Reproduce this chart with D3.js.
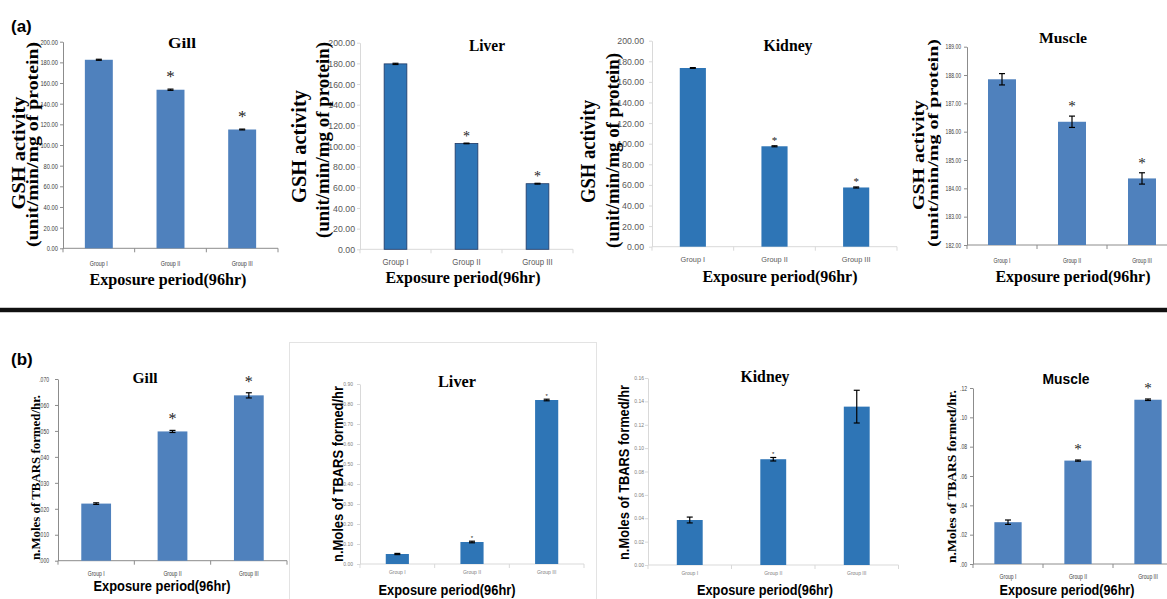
<!DOCTYPE html>
<html>
<head>
<meta charset="utf-8">
<script src="https://cdn.jsdelivr.net/npm/d3@7"></script>
<style>
  html, body { margin: 0; padding: 0; background: #fff; }
  svg { display: block; }
</style>
</head>
<body>
<svg id="chart" width="1167" height="599"></svg>
<script>
// ---------- DATA ----------
const groups = ["Group I", "Group II", "Group III"];

// (a) GSH activity (unit/min/mg of protein)
const gshGill = [182.5, 153.5, 115.0];
const gshGillErr = [0.5, 0.6, 0.4];
const gshLiver = [179.5, 102.5, 63.5];
const gshLiverErr = [0.6, 0.3, 0.4];
const gshKidney = [173.5, 97.5, 57.5];
const gshKidneyErr = [0.4, 0.5, 0.5];
const gshMuscle = [187.85, 186.35, 184.35];
const gshMuscleErr = [0.2, 0.2, 0.2];
const gshSig = [false, true, true];

// (b) TBARS (n.Moles formed/hr)
const tbGill = [0.022, 0.0498, 0.0637];
const tbGillErr = [0.0003, 0.0004, 0.001];
const tbLiver = [0.05, 0.11, 0.82];
const tbLiverErr = [0.003, 0.004, 0.004];
const tbKidney = [0.0385, 0.0905, 0.1355];
const tbKidneyErr = [0.0025, 0.0015, 0.014];
const tbMuscle = [0.0285, 0.0705, 0.112];
const tbMuscleErr = [0.0015, 0.0004, 0.0005];
const tbSig = [false, true, true];

// axis domains
const gshDomain = [0, 200];
const gshMuscleDomain = [182, 189];
const tbGillDomain = [0, 0.07];
const tbLiverDomain = [0, 0.9];
const tbKidneyDomain = [0, 0.16];
const tbMuscleDomain = [0, 0.12];

const txtGsh1 = "GSH activity";
const txtGsh2 = "(unit/min/mg of protein)";
const txtTbars = "n.Moles of TBARS formed/hr";
const txtTbarsDot = "n.Moles of TBARS formed/hr.";
const txtX = "Exposure period(96hr)";

// ---------- STYLE ----------
const SERIF = "'Liberation Serif','Times New Roman',serif";
const SANS = "'Liberation Sans',Arial,sans-serif";
const OLD = "#4F81BD", NEW = "#2E75B6";

const f2 = d3.format(".2f");
const fDot3 = v => d3.format(".3f")(v).replace(/^0/, "");
const fDot2 = v => d3.format(".2f")(v).replace(/^0/, "");

const svg = d3.select("#chart");

const panels = [
  { vals: gshGill, errs: gshGillErr, sig: gshSig, domain: gshDomain, ticks: 10, fmt: f2,
    x0: 63, x1: 278, yTop: 41.7, yBot: 248.3, pad: 0.61, color: OLD, axis: "#8c8c8c",
    tickSize: 8, cond: 0.72, tickColor: "#404040", tickGap: 5,
    grpSize: 7.5, grpColor: "#404040", grpY: 266,
    ast: { font: SERIF, size: 17, off: 7 },
    title: { t: "Gill", font: SERIF, size: 15, cx: 182, cy: 43, len: 28 },
    ylabs: [{ t: txtGsh1, font: SERIF, size: 19, x: 18, cy: 153, len: 113 },
            { t: txtGsh2, font: SERIF, size: 17, x: 32, cy: 144.5, len: 205 }],
    xlab: { t: txtX, font: SERIF, size: 17, cx: 168, y: 285, len: 157 } },
  { vals: gshLiver, errs: gshLiverErr, sig: gshSig, domain: gshDomain, ticks: 10, fmt: f2,
    x0: 360, x1: 573, yTop: 42.7, yBot: 249.3, pad: 0.68, color: NEW, stroke: "#1F3864", axis: "#d9d9d9",
    tickSize: 9.5, cond: 0.92, tickColor: "#595959", tickGap: 5,
    grpSize: 8.5, grpColor: "#595959", grpY: 265,
    ast: { font: SERIF, size: 14, off: 2 },
    title: { t: "Liver", font: SERIF, size: 17, cx: 487, cy: 45, len: 36 },
    ylabs: [{ t: txtGsh1, font: SERIF, size: 22, x: 298, cy: 146.5, len: 113 },
            { t: txtGsh2, font: SERIF, size: 19, x: 322, cy: 140, len: 196 }],
    xlab: { t: txtX, font: SERIF, size: 17, cx: 463, y: 283, len: 155 } },
  { vals: gshKidney, errs: gshKidneyErr, sig: gshSig, domain: gshDomain, ticks: 10, fmt: f2,
    x0: 652, x1: 897, yTop: 40.7, yBot: 246.7, pad: 0.68, color: NEW, axis: "#d9d9d9",
    tickSize: 9.5, cond: 0.92, tickColor: "#595959", tickGap: 8,
    grpSize: 8, grpColor: "#595959", grpY: 262,
    ast: { font: SERIF, size: 11, off: 2 },
    title: { t: "Kidney", font: SERIF, size: 17, cx: 788, cy: 45, len: 49 },
    ylabs: [{ t: txtGsh1, font: SERIF, size: 22, x: 587, cy: 151.5, len: 103 },
            { t: txtGsh2, font: SERIF, size: 19, x: 612, cy: 150.5, len: 195 }],
    xlab: { t: txtX, font: SERIF, size: 17, cx: 780, y: 282, len: 155 } },
  { vals: gshMuscle, errs: gshMuscleErr, sig: gshSig, domain: gshMuscleDomain, ticks: 7, fmt: f2,
    x0: 967, x1: 1177, yTop: 46.7, yBot: 245, pad: 0.6, color: OLD, axis: "#8c8c8c",
    tickSize: 7, cond: 0.72, tickColor: "#404040", tickGap: 6,
    grpSize: 7, grpColor: "#404040", grpY: 263,
    ast: { font: SERIF, size: 15, off: 5 },
    title: { t: "Muscle", font: SERIF, size: 15, cx: 1063, cy: 38, len: 48 },
    ylabs: [{ t: txtGsh1, font: SERIF, size: 17, x: 918, cy: 155, len: 110 },
            { t: txtGsh2, font: SERIF, size: 15, x: 933, cy: 143, len: 208 }],
    xlab: { t: txtX, font: SERIF, size: 17, cx: 1073, y: 282, len: 155 } },

  { vals: tbGill, errs: tbGillErr, sig: tbSig, domain: tbGillDomain, ticks: 7, fmt: fDot3,
    x0: 58, x1: 287, yTop: 379, yBot: 560.7, pad: 0.61, color: OLD, axis: "#8c8c8c",
    tickSize: 7, cond: 0.72, tickColor: "#404040", tickGap: 9,
    grpSize: 7, grpColor: "#404040", grpY: 576,
    ast: { font: SERIF, size: 16, off: 6 },
    title: { t: "Gill", font: SERIF, size: 15, cx: 145, cy: 378, len: 25 },
    ylabs: [{ t: txtTbarsDot, font: SERIF, size: 13.5, x: 35, cy: 477.5, len: 165 }],
    xlab: { t: txtX, font: SANS, size: 14, cx: 162, y: 591, len: 137 } },
  { vals: tbLiver, errs: tbLiverErr, sig: tbSig, domain: tbLiverDomain, ticks: 9, fmt: f2,
    x0: 360, x1: 584, yTop: 384, yBot: 564, pad: 0.69, color: NEW, axis: "#d9d9d9",
    tickSize: 5, cond: 1, tickColor: "#808080", tickGap: 7,
    grpSize: 5, grpColor: "#808080", grpY: 574,
    ast: { font: SANS, size: 6, off: 1 },
    title: { t: "Liver", font: SERIF, size: 16, cx: 457, cy: 381, len: 38 },
    ylabs: [{ t: txtTbars, font: SANS, size: 15, x: 337, cy: 474, len: 176 }],
    xlab: { t: txtX, font: SANS, size: 14, cx: 447, y: 595, len: 137 } },
  { vals: tbKidney, errs: tbKidneyErr, sig: [false, true, false], domain: tbKidneyDomain, ticks: 8, fmt: f2,
    x0: 648, x1: 898.5, yTop: 378, yBot: 565, pad: 0.69, color: NEW, axis: "#d9d9d9",
    tickSize: 5, cond: 1, tickColor: "#808080", tickGap: 4,
    grpSize: 5, grpColor: "#808080", grpY: 575,
    ast: { font: SANS, size: 6, off: 1 },
    title: { t: "Kidney", font: SERIF, size: 16, cx: 765, cy: 376, len: 49 },
    ylabs: [{ t: txtTbars, font: SANS, size: 15, x: 623, cy: 472.5, len: 175 }],
    xlab: { t: txtX, font: SANS, size: 14, cx: 765, y: 595, len: 136 } },
  { vals: tbMuscle, errs: tbMuscleErr, sig: tbSig, domain: tbMuscleDomain, ticks: 6, fmt: fDot2,
    x0: 973, x1: 1183, yTop: 388, yBot: 564, pad: 0.61, color: OLD, axis: "#8c8c8c",
    tickSize: 7, cond: 0.72, tickColor: "#404040", tickGap: 6,
    grpSize: 7, grpColor: "#404040", grpY: 579,
    ast: { font: SERIF, size: 15, off: 6 },
    title: { t: "Muscle", font: SANS, size: 15, cx: 1066, cy: 378, len: 47 },
    ylabs: [{ t: txtTbarsDot, font: SERIF, size: 13.5, x: 951, cy: 476.5, len: 173 }],
    xlab: { t: txtX, font: SANS, size: 14, cx: 1067, y: 595, len: 135 } }
];

// ---------- FRAME ----------
svg.append("rect").attr("x", 289.5).attr("y", 342.5).attr("width", 307).attr("height", 270)
  .attr("fill", "none").attr("stroke", "#e3e3e3").attr("stroke-width", 1);

svg.append("rect").attr("x", 0).attr("y", 307).attr("width", 1167).attr("height", 6).attr("fill", "#c8c8c8");
svg.append("rect").attr("x", 0).attr("y", 308).attr("width", 1167).attr("height", 4).attr("fill", "#111");

svg.append("text").attr("x", 11).attr("y", 32).text("(a)")
  .attr("font-family", SANS).attr("font-weight", "bold").attr("font-size", 17).attr("fill", "#000");
svg.append("text").attr("x", 11).attr("y", 365).text("(b)")
  .attr("font-family", SANS).attr("font-weight", "bold").attr("font-size", 17).attr("fill", "#000");

// ---------- PANELS ----------
function label(g, o, rotate) {
  const t = g.append("text").text(o.t)
    .attr("font-family", o.font).attr("font-weight", "bold").attr("font-size", o.size)
    .attr("fill", "#000").attr("text-anchor", "middle")
    .attr("textLength", o.len).attr("lengthAdjust", "spacingAndGlyphs");
  if (rotate) {
    t.attr("dominant-baseline", "central")
     .attr("transform", `translate(${o.x},${o.cy}) rotate(-90)`);
  } else if (o.cy !== undefined) {
    t.attr("dominant-baseline", "central").attr("x", o.cx).attr("y", o.cy);
  } else {
    t.attr("x", o.cx).attr("y", o.y);
  }
}

function condense(sel, factor) {
  if (factor === 1) return;
  sel.each(function () {
    const w = this.getComputedTextLength();
    d3.select(this).attr("textLength", w * factor).attr("lengthAdjust", "spacingAndGlyphs");
  });
}

panels.forEach(p => {
  const g = svg.append("g");
  const x = d3.scaleBand().domain(groups).range([p.x0, p.x1])
    .paddingInner(p.pad).paddingOuter(p.pad / 2);
  const y = d3.scaleLinear().domain(p.domain).range([p.yBot, p.yTop]);
  const half = x.step() * p.pad / 2;

  // y axis
  const ya = g.append("g").attr("transform", `translate(${p.x0},0)`)
    .call(d3.axisLeft(y).ticks(p.ticks).tickFormat(p.fmt).tickSize(3).tickSizeOuter(0).tickPadding(p.tickGap - 3));
  ya.select(".domain").attr("stroke", p.axis);
  ya.selectAll(".tick line").attr("stroke", p.axis);
  const tt = ya.selectAll(".tick text").attr("font-family", SANS).attr("font-size", p.tickSize).attr("fill", p.tickColor);
  condense(tt, p.cond);

  // x axis line + category boundary ticks
  g.append("line").attr("x1", p.x0).attr("x2", p.x1).attr("y1", p.yBot).attr("y2", p.yBot)
    .attr("stroke", p.axis);
  const bounds = groups.map(d => x(d) - half).concat([x(groups[groups.length - 1]) + x.bandwidth() + half]);
  g.selectAll(".bt").data(bounds).join("line")
    .attr("x1", d => d).attr("x2", d => d).attr("y1", p.yBot).attr("y2", p.yBot + 4)
    .attr("stroke", p.axis);

  // group labels
  const gl = g.selectAll(".gl").data(groups).join("text")
    .attr("x", d => x(d) + x.bandwidth() / 2).attr("y", p.grpY)
    .attr("text-anchor", "middle").attr("font-family", SANS)
    .attr("font-size", p.grpSize).attr("fill", p.grpColor).text(d => d);
  condense(gl, p.cond);

  const rows = groups.map((gr, i) => ({ gr, v: p.vals[i], e: p.errs[i], s: p.sig[i] }));

  // bars
  g.selectAll(".bar").data(rows).join("rect")
    .attr("x", d => x(d.gr)).attr("width", x.bandwidth())
    .attr("y", d => y(d.v)).attr("height", d => y(p.domain[0]) - y(d.v))
    .attr("fill", p.color)
    .attr("stroke", p.stroke || "none").attr("stroke-width", p.stroke ? 0.8 : 0);

  // error bars
  const cx = d => x(d.gr) + x.bandwidth() / 2;
  const eb = g.selectAll(".eb").data(rows).join("g").attr("stroke", "#000").attr("stroke-width", 1.2);
  eb.append("line").attr("x1", cx).attr("x2", cx).attr("y1", d => y(d.v - d.e)).attr("y2", d => y(d.v + d.e));
  eb.append("line").attr("x1", d => cx(d) - 3).attr("x2", d => cx(d) + 3).attr("y1", d => y(d.v + d.e)).attr("y2", d => y(d.v + d.e));
  eb.append("line").attr("x1", d => cx(d) - 3).attr("x2", d => cx(d) + 3).attr("y1", d => y(d.v - d.e)).attr("y2", d => y(d.v - d.e));

  // significance asterisks
  g.selectAll(".ast").data(rows.filter(d => d.s)).join("text")
    .attr("x", cx).attr("y", d => y(d.v + d.e) - p.ast.off)
    .attr("text-anchor", "middle").attr("font-family", p.ast.font)
    .attr("font-size", p.ast.size).attr("fill", "#222").text("*");

  // titles and axis labels
  label(g, p.title, false);
  p.ylabs.forEach(o => label(g, o, true));
  label(g, p.xlab, false);
});
</script>
</body>
</html>
